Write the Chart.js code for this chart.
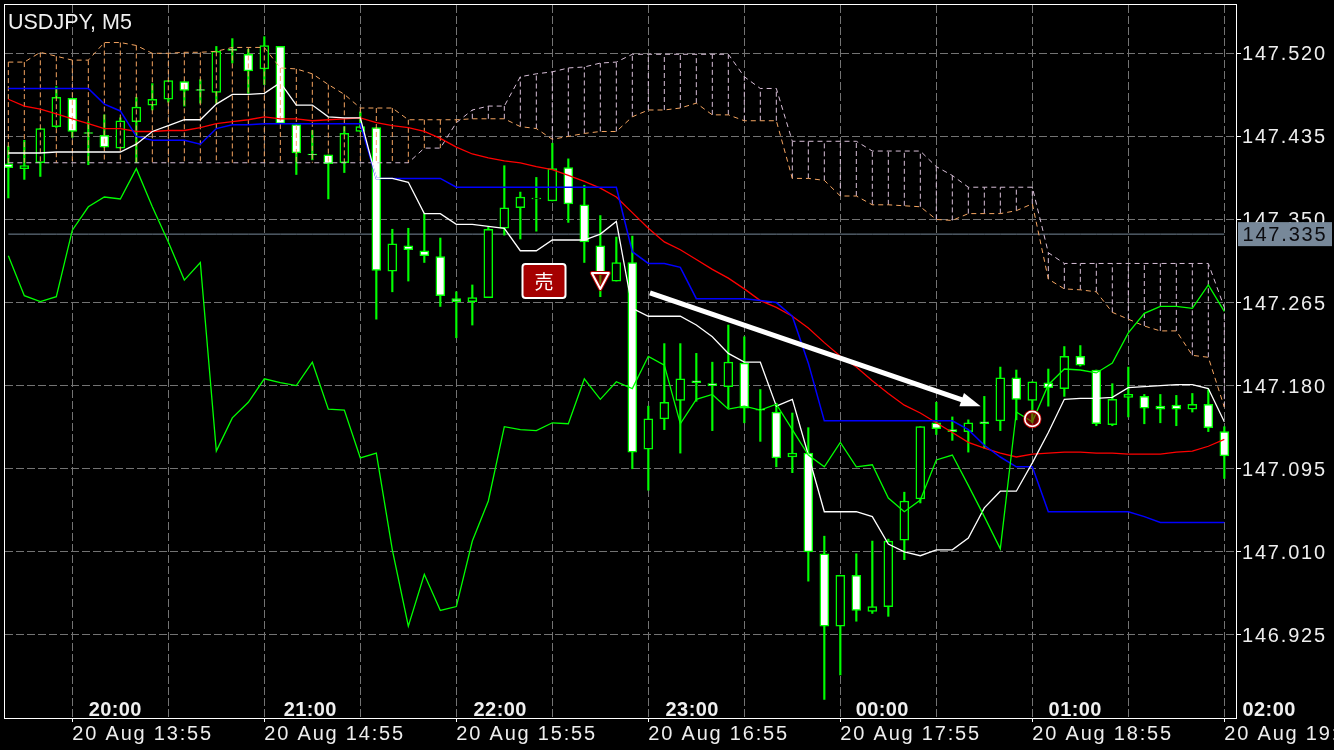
<!DOCTYPE html>
<html>
<head>
<meta charset="utf-8">
<title>USDJPY, M5</title>
<script src="https://cdn.jsdelivr.net/npm/chart.js@4"></script>
<style>
  html, body { margin: 0; padding: 0; background: #000; overflow: hidden; }
  canvas { display: block; }
</style>
</head>
<body>
<canvas id="priceChart" width="1334" height="750"></canvas>
<script>
const title = 'USDJPY, M5';

// one entry per M5 bar
const open = [
  147.407, 147.402, 147.408, 147.445, 147.474, 147.439, 147.436, 147.423, 147.450, 147.467,
  147.473, 147.491, 147.483, 147.480, 147.524, 147.519, 147.504, 147.527, 147.447, 147.417,
  147.416, 147.408, 147.440, 147.444, 147.297, 147.323, 147.318, 147.312, 147.269, 147.266,
  147.270, 147.341, 147.362, 147.371, 147.369, 147.403, 147.365, 147.323, 147.287, 147.306,
  147.115, 147.146, 147.165, 147.185, 147.182, 147.179, 147.203, 147.156, 147.153, 147.107,
  147.111, 147.008, 146.934, 146.986, 146.949, 146.954, 147.022, 147.064, 147.142, 147.135,
  147.133, 147.143, 147.144, 147.188, 147.165, 147.183, 147.177, 147.210, 147.196, 147.140,
  147.168, 147.169, 147.159, 147.160, 147.156, 147.161, 147.133
];
const high = [
  147.425, 147.431, 147.443, 147.486, 147.474, 147.450, 147.457, 147.454, 147.475, 147.489,
  147.492, 147.491, 147.493, 147.527, 147.535, 147.524, 147.537, 147.527, 147.447, 147.441,
  147.416, 147.445, 147.460, 147.444, 147.340, 147.341, 147.356, 147.331, 147.276, 147.283,
  147.342, 147.405, 147.378, 147.393, 147.428, 147.412, 147.385, 147.354, 147.332, 147.333,
  147.159, 147.223, 147.223, 147.213, 147.204, 147.242, 147.230, 147.176, 147.162, 147.152,
  147.137, 147.026, 146.986, 147.008, 147.021, 147.023, 147.071, 147.138, 147.163, 147.148,
  147.145, 147.169, 147.199, 147.196, 147.184, 147.197, 147.220, 147.221, 147.196, 147.182,
  147.199, 147.171, 147.171, 147.170, 147.172, 147.176, 147.138
];
const low = [
  147.372, 147.391, 147.394, 147.444, 147.434, 147.406, 147.424, 147.423, 147.408, 147.462,
  147.470, 147.466, 147.469, 147.469, 147.510, 147.479, 147.488, 147.448, 147.396, 147.411,
  147.371, 147.398, 147.440, 147.248, 147.276, 147.287, 147.306, 147.261, 147.229, 147.242,
  147.270, 147.334, 147.330, 147.338, 147.369, 147.347, 147.306, 147.271, 147.287, 147.095,
  147.073, 147.135, 147.111, 147.164, 147.134, 147.157, 147.142, 147.123, 147.097, 147.091,
  146.980, 146.859, 146.884, 146.939, 146.947, 146.944, 147.002, 147.060, 147.130, 147.124,
  147.112, 147.116, 147.134, 147.145, 147.142, 147.159, 147.169, 147.200, 147.139, 147.139,
  147.148, 147.141, 147.142, 147.139, 147.153, 147.133, 147.085
];
const close = [
  147.403, 147.405, 147.443, 147.475, 147.440, 147.438, 147.424, 147.451, 147.465, 147.473,
  147.492, 147.482, 147.482, 147.522, 147.523, 147.502, 147.528, 147.448, 147.418, 147.416,
  147.407, 147.438, 147.445, 147.298, 147.325, 147.319, 147.313, 147.272, 147.266, 147.270,
  147.340, 147.362, 147.373, 147.372, 147.402, 147.366, 147.327, 147.295, 147.306, 147.112,
  147.146, 147.163, 147.187, 147.183, 147.180, 147.204, 147.157, 147.155, 147.106, 147.111,
  147.010, 146.934, 146.986, 146.950, 146.954, 147.021, 147.062, 147.138, 147.136, 147.133,
  147.142, 147.141, 147.188, 147.166, 147.184, 147.178, 147.210, 147.201, 147.141, 147.166,
  147.171, 147.157, 147.156, 147.156, 147.161, 147.137, 147.108
];

const tenkan = [
  147.418, 147.418, 147.418, 147.419, 147.419, 147.419, 147.419, 147.419, 147.427, 147.440,
  147.446, 147.452, 147.452, 147.468, 147.478, 147.478, 147.479, 147.490, 147.467, 147.467,
  147.455, 147.454, 147.454, 147.392, 147.392, 147.388, 147.356, 147.356, 147.345, 147.345,
  147.343, 147.341, 147.318, 147.318, 147.329, 147.329, 147.329, 147.335, 147.348, 147.259,
  147.251, 147.251, 147.251, 147.242, 147.230, 147.213, 147.204, 147.204, 147.159, 147.166,
  147.109, 147.051, 147.051, 147.051, 147.046, 147.018, 147.010, 147.006, 147.012, 147.012,
  147.024, 147.055, 147.072, 147.072, 147.101, 147.132, 147.166, 147.167, 147.167, 147.168,
  147.178, 147.179, 147.180, 147.181, 147.181, 147.177, 147.143
];
const kijun = [
  147.484, 147.484, 147.484, 147.484, 147.484, 147.484, 147.468, 147.461, 147.435, 147.431,
  147.431, 147.431, 147.427, 147.443, 147.447, 147.447, 147.448, 147.448, 147.448, 147.448,
  147.448, 147.448, 147.448, 147.392, 147.392, 147.392, 147.392, 147.392, 147.383, 147.383,
  147.383, 147.383, 147.383, 147.383, 147.383, 147.383, 147.383, 147.383, 147.383, 147.317,
  147.305, 147.305, 147.301, 147.269, 147.269, 147.269, 147.269, 147.267, 147.265, 147.251,
  147.203, 147.144, 147.144, 147.144, 147.144, 147.144, 147.144, 147.144, 147.144, 147.144,
  147.135, 147.119, 147.107, 147.097, 147.097, 147.051, 147.051, 147.051, 147.051, 147.051,
  147.051, 147.046, 147.040, 147.040, 147.040, 147.040, 147.040
];
const chikou = [
  147.313, 147.272, 147.266, 147.271, 147.339, 147.363, 147.373, 147.371, 147.402, 147.363,
  147.327, 147.288, 147.306, 147.113, 147.147, 147.163, 147.187, 147.183, 147.180, 147.204,
  147.156, 147.155, 147.106, 147.111, 147.012, 146.934, 146.987, 146.950, 146.954, 147.021,
  147.062, 147.138, 147.135, 147.134, 147.142, 147.141, 147.187, 147.166, 147.184, 147.177,
  147.210, 147.201, 147.141, 147.166, 147.171, 147.156, 147.159, 147.155, 147.161, 147.135,
  147.109, 147.097, 147.122, 147.097, 147.099, 147.065, 147.051, 147.063, 147.104, 147.109,
  147.078, 147.046, 147.013, 147.153, 147.143, 147.181, 147.197, 147.196, 147.193, 147.203,
  147.234, 147.254, 147.261, 147.261, 147.259, 147.283, 147.256
];
const movingAverage = [
  147.473, 147.466, 147.463, 147.458, 147.453, 147.448, 147.443, 147.443, 147.440, 147.440,
  147.441, 147.441, 147.444, 147.448, 147.450, 147.452, 147.455, 147.453, 147.453, 147.451,
  147.452, 147.453, 147.454, 147.449, 147.446, 147.444, 147.440, 147.433, 147.424, 147.417,
  147.413, 147.410, 147.408, 147.404, 147.401, 147.395, 147.389, 147.382, 147.373, 147.357,
  147.341, 147.327, 147.319, 147.309, 147.299, 147.290, 147.279, 147.267, 147.260, 147.251,
  147.239, 147.224, 147.210, 147.199, 147.185, 147.172, 147.160, 147.152, 147.142, 147.132,
  147.122, 147.116, 147.111, 147.107, 147.110, 147.111, 147.112, 147.112, 147.111, 147.111,
  147.110, 147.110, 147.110, 147.112, 147.113, 147.118, 147.125
];
const spanA = [
  147.511, 147.511, 147.521, 147.517, 147.513, 147.513, 147.531, 147.531, 147.528, 147.520,
  147.520, 147.521, 147.521, 147.522, 147.526, 147.526, 147.526, 147.505, 147.504, 147.499,
  147.488, 147.478, 147.464, 147.464, 147.464, 147.452, 147.452, 147.452, 147.452, 147.453,
  147.453, 147.453, 147.445, 147.443, 147.432, 147.435, 147.438, 147.440, 147.440, 147.455,
  147.462, 147.462, 147.464, 147.469, 147.457, 147.457, 147.451, 147.451, 147.451, 147.392,
  147.392, 147.390, 147.374, 147.374, 147.365, 147.365, 147.364, 147.363, 147.350, 147.349,
  147.356, 147.356, 147.356, 147.359, 147.366, 147.289, 147.279, 147.278, 147.276, 147.255,
  147.248, 147.241, 147.236, 147.236, 147.211, 147.209, 147.158
];
const spanB = [
  147.408, 147.408, 147.408, 147.408, 147.408, 147.408, 147.408, 147.408, 147.408, 147.408,
  147.408, 147.408, 147.408, 147.408, 147.408, 147.408, 147.408, 147.408, 147.408, 147.408,
  147.408, 147.408, 147.408, 147.408, 147.408, 147.408, 147.423, 147.423, 147.449, 147.462,
  147.466, 147.466, 147.496, 147.499, 147.501, 147.505, 147.506, 147.510, 147.511, 147.519,
  147.519, 147.519, 147.519, 147.519, 147.519, 147.519, 147.496, 147.484, 147.484, 147.430,
  147.430, 147.430, 147.430, 147.430, 147.420, 147.420, 147.420, 147.420, 147.404, 147.395,
  147.383, 147.383, 147.383, 147.383, 147.383, 147.316, 147.305, 147.305, 147.305, 147.305,
  147.305, 147.305, 147.305, 147.305, 147.305, 147.305, 147.260
];

const currentPrice = 147.335;
const priceTicks = [147.520, 147.435, 147.350, 147.265, 147.180, 147.095, 147.010, 146.925];
const gridBars = [4, 10, 16, 22, 28, 34, 40, 46, 52, 58, 64, 70, 76];
const dateBars = [4, 16, 28, 40, 52, 64, 76];
const dateLabels = ['20 Aug 13:55', '20 Aug 14:55', '20 Aug 15:55', '20 Aug 16:55', '20 Aug 17:55', '20 Aug 18:55', '20 Aug 19:55'];
const hourBars = [6.68, 18.87, 30.74, 42.74, 54.62, 66.68, 78.8];
const hourLabels = ['20:00', '21:00', '22:00', '23:00', '00:00', '01:00', '02:00'];

// trade markers, in bar / price units
const sellLabel = '売';
const sellBadge = { bar: 33.48, price: 147.287 };
const entryMark = { bar: 37, price: 147.287 };
const exitMark = { bar: 64, price: 147.146 };
const arrowFrom = { bar: 40.1, price: 147.275 };
const arrowTo = { bar: 60.77, price: 147.159 };

const bars = open.map((_, i) => i);
const GREEN = '#00ff00';
const SANDY = '#f4a460';
const THISTLE = '#d8bfd8';
const AXIS_FONT = '"Liberation Sans", sans-serif';

function indicator(values, color, order, extra) {
  return Object.assign({
    type: 'line',
    data: bars.map(i => ({ x: i, y: values[i] })),
    borderColor: color,
    borderWidth: 1.3,
    pointRadius: 0,
    tension: 0,
    order
  }, extra);
}

// cloud hatching: one dashed stroke per bar, broken up with null points
function hatch(color, keep) {
  const pts = [];
  bars.filter(keep).forEach(i => {
    pts.push({ x: i, y: spanA[i] }, { x: i, y: spanB[i] }, { x: i, y: null });
  });
  return {
    type: 'line',
    data: pts,
    borderColor: color,
    borderWidth: 1,
    borderDash: [5, 3],
    pointRadius: 0,
    spanGaps: false,
    order: 7
  };
}

const overlay = {
  id: 'overlay',
  beforeDraw(chart) {
    chart.ctx.letterSpacing = '1.8px';
  },
  afterDraw(chart) {
    const { ctx, chartArea: area, scales: { x, y } } = chart;
    ctx.save();
    ctx.letterSpacing = '0px';

    // frame
    ctx.strokeStyle = '#fff';
    ctx.lineWidth = 1;
    ctx.strokeRect(area.left - 0.5, area.top - 0.5, area.right - area.left + 1, area.bottom - area.top + 1);

    // arrow
    const x0 = x.getPixelForValue(arrowFrom.bar), y0 = y.getPixelForValue(arrowFrom.price);
    const x1 = x.getPixelForValue(arrowTo.bar), y1 = y.getPixelForValue(arrowTo.price);
    const len = Math.hypot(x1 - x0, y1 - y0);
    const ux = (x1 - x0) / len, uy = (y1 - y0) / len;
    ctx.strokeStyle = '#fff';
    ctx.lineWidth = 5;
    ctx.beginPath();
    ctx.moveTo(x0, y0);
    ctx.lineTo(x1 - 18 * ux, y1 - 18 * uy);
    ctx.stroke();
    ctx.fillStyle = '#fff';
    ctx.beginPath();
    ctx.moveTo(x1, y1);
    ctx.lineTo(x1 - 20 * ux - 7 * uy, y1 - 20 * uy + 7 * ux);
    ctx.lineTo(x1 - 20 * ux + 7 * uy, y1 - 20 * uy - 7 * ux);
    ctx.closePath();
    ctx.fill();

    // sell badge
    const bx = x.getPixelForValue(sellBadge.bar), by = y.getPixelForValue(sellBadge.price);
    ctx.beginPath();
    ctx.roundRect(bx - 21.5, by - 17, 43, 34, 3);
    ctx.fillStyle = '#a50000';
    ctx.fill();
    ctx.strokeStyle = '#fff';
    ctx.lineWidth = 2;
    ctx.stroke();
    ctx.fillStyle = '#fff';
    ctx.font = '19px "Noto Sans CJK JP"';
    ctx.textAlign = 'center';
    ctx.textBaseline = 'middle';
    ctx.fillText(sellLabel, bx, by + 1);

    // entry triangle
    const tx = x.getPixelForValue(entryMark.bar), ty = y.getPixelForValue(entryMark.price);
    ctx.beginPath();
    ctx.moveTo(tx - 8.5, ty - 8);
    ctx.lineTo(tx + 8.5, ty - 8);
    ctx.lineTo(tx, ty + 8);
    ctx.closePath();
    ctx.fillStyle = 'rgba(170, 0, 0, 0.55)';
    ctx.fill();
    ctx.lineJoin = 'round';
    ctx.strokeStyle = '#b00000';
    ctx.lineWidth = 4;
    ctx.stroke();
    ctx.strokeStyle = '#fff';
    ctx.lineWidth = 2;
    ctx.stroke();

    // exit circle
    const cx = x.getPixelForValue(exitMark.bar), cy = y.getPixelForValue(exitMark.price);
    ctx.beginPath();
    ctx.arc(cx, cy, 7.5, 0, Math.PI * 2);
    ctx.fillStyle = 'rgba(170, 0, 0, 0.55)';
    ctx.fill();
    ctx.strokeStyle = '#b00000';
    ctx.lineWidth = 3.5;
    ctx.stroke();
    ctx.strokeStyle = '#fff';
    ctx.lineWidth = 1.6;
    ctx.stroke();

    // current price box
    const py = y.getPixelForValue(currentPrice);
    ctx.fillStyle = '#778899';
    ctx.fillRect(area.right + 2, py - 12, 94, 24);
    ctx.fillStyle = '#0c0c10';
    ctx.font = '20px ' + AXIS_FONT;
    ctx.textAlign = 'left';
    ctx.letterSpacing = '1.8px';
    ctx.fillText(currentPrice.toFixed(3), area.right + 6.5, py + 1.5);
    ctx.letterSpacing = '0px';

    // symbol and hour labels
    ctx.fillStyle = '#f0f0f0';
    ctx.font = '21.5px ' + AXIS_FONT;
    ctx.textBaseline = 'alphabetic';
    ctx.fillText(title, area.left + 3, area.top + 24);
    ctx.font = 'bold 20px ' + AXIS_FONT;
    ctx.textAlign = 'center';
    ctx.letterSpacing = '0.4px';
    hourLabels.forEach((label, i) => {
      ctx.fillText(label, x.getPixelForValue(hourBars[i]), area.bottom - 2);
    });
    ctx.restore();
  }
};

new Chart(document.getElementById('priceChart'), {
  type: 'bar',
  data: {
    datasets: [
      // current price line sits behind the candles
      indicator(bars.map(() => currentPrice), '#778899', 11, { borderWidth: 1 }),
      {
        type: 'bar',
        data: bars.map(i => ({ x: i, y: [low[i], high[i]] })),
        backgroundColor: GREEN,
        borderWidth: 0,
        barThickness: 1.5,
        grouped: false,
        order: 10
      },
      {
        type: 'bar',
        data: bars.map(i => ({ x: i, y: [open[i], close[i]] })),
        backgroundColor: bars.map(i => close[i] < open[i] ? '#fff' : '#000'),
        borderColor: GREEN,
        borderWidth: 1.5,
        borderSkipped: false,
        barThickness: 9,
        grouped: false,
        order: 9
      },
      hatch(SANDY, i => spanA[i] >= spanB[i]),
      hatch(THISTLE, i => spanA[i] < spanB[i]),
      indicator(spanA, SANDY, 6, { borderWidth: 1, borderDash: [5, 4] }),
      indicator(spanB, THISTLE, 6, { borderWidth: 1, borderDash: [5, 4] }),
      indicator(movingAverage, '#ff0000', 5),
      indicator(kijun, '#0000ff', 4, { borderWidth: 1.5 }),
      indicator(tenkan, '#ffffff', 3),
      indicator(chikou, GREEN, 2)
    ]
  },
  options: {
    responsive: false,
    animation: false,
    events: [],
    layout: { padding: { left: 5, top: 5, right: 0, bottom: 0 } },
    plugins: { legend: { display: false }, tooltip: { enabled: false } },
    scales: {
      x: {
        type: 'linear',
        offset: false,
        min: -0.208,
        max: 76.73,
        afterBuildTicks: axis => { axis.ticks = gridBars.map(value => ({ value })); },
        afterFit: axis => { axis.height = 32; axis.paddingLeft = 0; axis.paddingRight = 0; },
        grid: {
          offset: false,
          color: '#737373',
          tickLength: 4,
          tickColor: ctx => dateBars.includes(ctx.tick.value) ? '#fff' : 'transparent'
        },
        border: { color: '#fff', dash: [8, 3] },
        ticks: {
          autoSkip: false,
          maxRotation: 0,
          align: 'start',
          padding: 0,
          color: '#eeeeee',
          font: { family: AXIS_FONT, size: 20 },
          callback: value => dateLabels[dateBars.indexOf(value)] || ''
        }
      },
      y: {
        position: 'right',
        min: 146.840,
        max: 147.5694,
        afterBuildTicks: axis => { axis.ticks = priceTicks.map(value => ({ value })); },
        afterFit: axis => { axis.width = 98; axis.paddingTop = 0; axis.paddingBottom = 0; },
        grid: { color: '#737373', tickLength: 5, tickColor: '#fff' },
        border: { color: '#fff', dash: [8, 3] },
        ticks: {
          autoSkip: false,
          padding: 1,
          labelOffset: 1.5,
          color: '#eeeeee',
          font: { family: AXIS_FONT, size: 20 },
          callback: value => value.toFixed(3)
        }
      }
    }
  },
  plugins: [overlay]
});
</script>
</body>
</html>
